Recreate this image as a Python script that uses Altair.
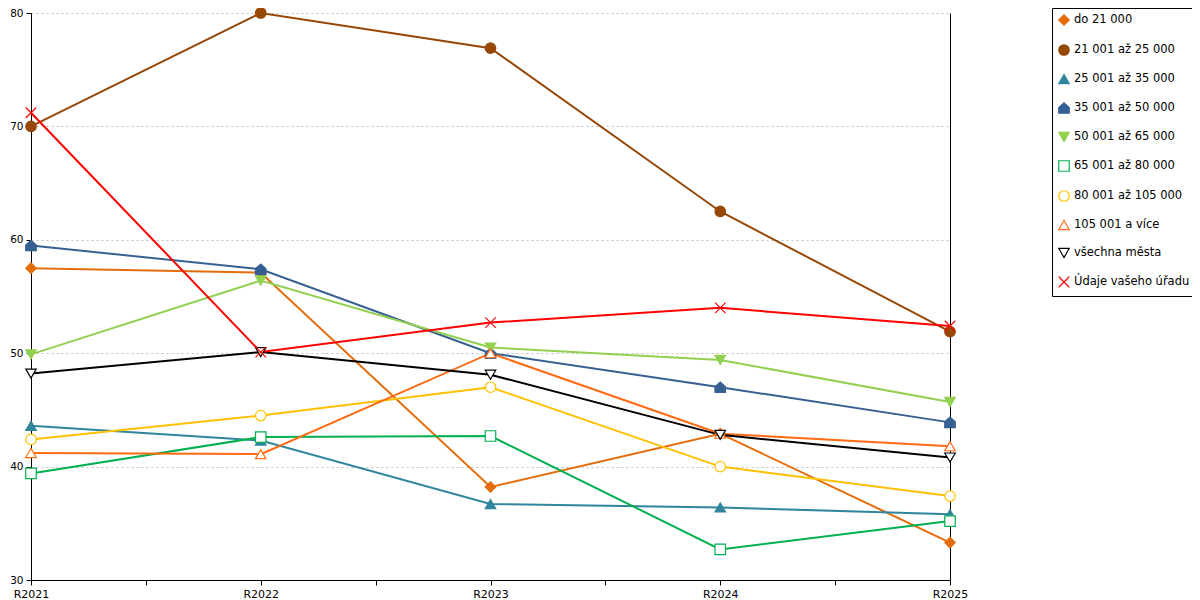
import json
import altair as alt
import pandas as pd

years = ["R2021", "R2022", "R2023", "R2024", "R2025"]
series = [
    "do 21 000",
    "21 001 až 25 000",
    "25 001 až 35 000",
    "35 001 až 50 000",
    "50 001 až 65 000",
    "65 001 až 80 000",
    "80 001 až 105 000",
    "105 001 a více",
    "všechna města",
    "Údaje vašeho úřadu",
]
v_do21 = [57.5, 57.1, 38.2, 42.9, 33.3]
v_21_25 = [70.0, 80.0, 76.9, 62.5, 51.9]
v_25_35 = [43.6, 42.3, 36.7, 36.4, 35.8]
v_35_50 = [59.5, 57.4, 50.0, 47.0, 43.9]
v_50_65 = [49.9, 56.4, 50.5, 49.4, 45.7]
v_65_80 = [39.4, 42.6, 42.7, 32.7, 35.2]
v_80_105 = [42.4, 44.5, 47.0, 40.0, 37.4]
v_105 = [41.2, 41.1, 50.0, 42.9, 41.8]
v_all = [48.2, 50.1, 48.1, 42.8, 40.8]
v_office = [71.2, 50.1, 52.7, 54.0, 52.4]
values = [v_do21, v_21_25, v_25_35, v_35_50, v_50_65, v_65_80, v_80_105, v_105, v_all, v_office]

colors = ["#E46C0A", "#974706", "#31859C", "#376092", "#92D050",
          "#00B050", "#FFC000", "#FF6A10", "#000000", "#FF0000"]
fills = ["#E46C0A", "#974706", "#31859C", "#376092", "#92D050",
         "white", "white", "white", "white", "white"]
house = "M-1,1L-1,-0.1L0,-1L1,-0.1L1,1Z"
xshape = "M-1,-1L1,1M-1,1L1,-1"
shapes = ["diamond", "circle", "triangle-up", house, "triangle-down",
          "square", "circle", "triangle-up", "triangle-down", xshape]

rows = []
for s, c, vals in zip(series, colors, values):
    for i, (yr, v) in enumerate(zip(years, vals)):
        rows.append({"series": s, "line_color": c, "idx": i, "year": yr, "value": v})
df = pd.DataFrame(rows)

FONT = "DejaVu Sans"
label_expr = ("datum.value % 1 === 0 ? " + json.dumps(years) + "[datum.value] : ''")

PAD_LEFT, PAD_TOP = 23, 5
W, H = 919, 567

x = alt.X(
    "idx:Q",
    scale=alt.Scale(domain=[0, len(years) - 1], nice=False, zero=False),
    axis=alt.Axis(
        values=[i * 0.5 for i in range(2 * len(years) - 1)],
        labelExpr=label_expr, title=None, grid=False,
        domainColor="black", tickColor="black", labelColor="black",
        labelFont=FONT, labelFontSize=11, tickSize=5, labelPadding=3,
        labelOverlap=False, labelFlush=False,
    ),
)
yscale = alt.Scale(domain=[30, 80], nice=False, zero=False)
y_left = alt.Y(
    "value:Q", scale=yscale,
    axis=alt.Axis(
        values=[30, 40, 50, 60, 70, 80], title=None, grid=True,
        gridColor="#BFBFBF", gridDash=[2, 3], gridWidth=1,
        domainColor="black", tickColor="black", labelColor="black",
        labelFont=FONT, labelFontSize=10.5, tickSize=5, labelPadding=3,
    ),
)
y_right = alt.Y(
    "value:Q", scale=yscale,
    axis=alt.Axis(orient="right", title=None, grid=False, labels=False,
                  ticks=False, domainColor="black"),
)

lines = alt.Chart(df).mark_line(strokeWidth=2).encode(
    x=x, y=y_left,
    color=alt.Color("line_color:N", scale=None),
    detail="series:N",
)

legend = alt.Legend(
    title=None, orient="none", legendX=1052 - 8 - PAD_LEFT, legendY=-PAD_TOP,
    strokeColor="black", fillColor="white", padding=6, rowPadding=14,
    labelFont=FONT, labelFontSize=11.5, labelFontWeight="normal",
    labelColor="black", labelLimit=300,
    symbolSize=110, symbolStrokeWidth=1.2, labelOffset=4,
)

points = alt.Chart(df).mark_point(size=110, strokeWidth=1.2, opacity=1).encode(
    x=x, y=y_right,
    stroke=alt.Stroke("series:N", scale=alt.Scale(domain=series, range=colors), legend=legend),
    fill=alt.Fill("series:N", scale=alt.Scale(domain=series, range=fills), legend=legend),
    shape=alt.Shape("series:N", scale=alt.Scale(domain=series, range=shapes), legend=legend),
)

chart = alt.layer(lines, points).resolve_axis(y="independent").properties(
    width=W, height=H,
    autosize=alt.AutoSizeParams(type="none"),
    padding={"left": PAD_LEFT, "top": PAD_TOP, "right": 1200 - 16 - PAD_LEFT - W, "bottom": 22},
).configure_view(stroke=None)

chart.save("out.html", embed_options={"renderer": "svg", "actions": False})
